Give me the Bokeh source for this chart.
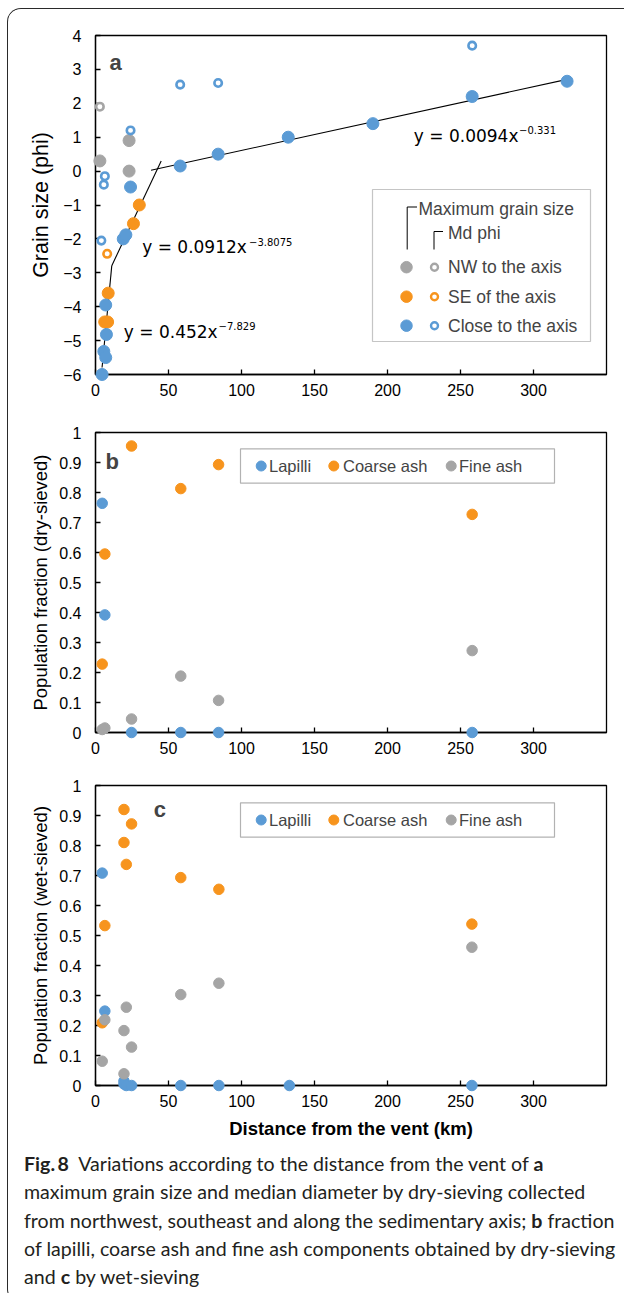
import math
from bokeh.plotting import figure
from bokeh.layouts import column
from bokeh.models import (Range1d, FixedTicker, Label, BoxAnnotation, Div,
                          CustomJSTickFormatter)
from bokeh.embed import file_html
from bokeh.resources import INLINE

# ---------------- data: panel a (grain size, phi) ----------------
nw_max_x = [3, 23, 23]
nw_max_y = [0.3, 0.9, 0.0]
nw_md_x = [3]
nw_md_y = [1.9]
se_max_x = [30, 26, 8.7, 6.3, 8.3]
se_max_y = [-1.0, -1.55, -3.6, -4.45, -4.45]
se_md_x = [8]
se_md_y = [-2.44]
cl_max_x = [4.5, 5.7, 7.0, 7.5, 7.0, 19.0, 20.8, 24, 58, 84, 132, 190, 258, 323]
cl_max_y = [-6.0, -5.32, -5.5, -4.82, -3.95, -2.0, -1.88, -0.47, 0.15, 0.5, 1.0, 1.4, 2.2, 2.65]
cl_md_x = [4, 5.7, 6.4, 24, 58, 84, 258]
cl_md_y = [-2.05, -0.4, -0.15, 1.2, 2.55, 2.6, 3.7]

fit_slope = [0.452, 0.0912, 0.0094]
fit_icept = [-7.829, -3.8075, -0.331]
fit_x_start = [4.5, 11.15, 38]
fit_x_end = [11.15, 45, 323]
eq_main = ["y = 0.452x", "y = 0.0912x", "y = 0.0094x"]
eq_sup = ["\u22127.829", "\u22123.8075", "\u22120.331"]

legend_a_titles = ["Maximum grain size", "Md phi"]
legend_a_rows = ["NW to the axis", "SE of the axis", "Close to the axis"]

# ---------------- data: panel b (dry-sieved) ----------------
dist_b = [4.6, 6.4, 24.7, 58.4, 84.3, 258]
lap_b = [0.764, 0.392, 0, 0, 0, 0]
coarse_b = [0.228, 0.595, 0.955, 0.813, 0.893, 0.727]
fine_b = [0.01, 0.015, 0.045, 0.188, 0.107, 0.273]

# ---------------- data: panel c (wet-sieved) ----------------
nan = float("nan")
dist_c = [4.6, 6.4, 19.5, 19.5, 21.1, 24.7, 58.4, 84.5, 132.8, 257.8]
lap_c = [0.708, 0.248, 0.015, 0.005, 0, 0, 0, 0, 0, 0]
coarse_c = [0.209, 0.533, 0.92, 0.81, 0.737, 0.872, 0.693, 0.654, nan, 0.538]
fine_c = [0.081, 0.219, 0.039, 0.183, 0.261, 0.128, 0.303, 0.341, nan, 0.461]

legend_bc = ["Lapilli", "Coarse ash", "Fine ash"]

x_tick_vals = [0, 50, 100, 150, 200, 250, 300]
a_tick_vals = [-6, -5, -4, -3, -2, -1, 0, 1, 2, 3, 4]
frac_tick_vals = [0, 0.1, 0.2, 0.3, 0.4, 0.5, 0.6, 0.7, 0.8, 0.9, 1.0]

# ---------------- style ----------------
BLUE = "#5B9BD5"
ORANGE = "#F7941D"
GRAY = "#A5A5A5"
FONT = "Liberation Sans"

W = 616
FRAME_L = 87
FRAME_W = 511
MB_R = W - FRAME_L - FRAME_W
X_MAX = 350


def fx(px):
    return (px - 95) * X_MAX / FRAME_W


def ya(py):
    return 4 - (py - 35) * 10 / 339


def yb(py):
    return (732 - py) / 300


def yc(py):
    return (1085 - py) / 300


def make_fig(height, top, frame_h, y0, y1):
    p = figure(width=W, height=height, x_range=Range1d(0, X_MAX),
               y_range=Range1d(y0, y1), output_backend="svg",
               toolbar_location=None, min_border_left=FRAME_L,
               min_border_right=MB_R, min_border_top=top,
               min_border_bottom=height - top - frame_h)
    p.grid.visible = False
    p.outline_line_color = "black"
    p.outline_line_width = 1.3
    p.background_fill_color = "white"
    p.border_fill_color = "white"
    for ax in p.axis:
        ax.major_tick_in = 5
        ax.major_tick_out = 0
        ax.minor_tick_line_color = None
        ax.axis_line_color = "black"
        ax.axis_line_width = 1.3
        ax.major_tick_line_color = "black"
        ax.major_tick_line_width = 1.3
        ax.major_label_text_font = FONT
        ax.major_label_text_font_size = "16px"
        ax.major_label_text_color = "black"
        ax.axis_label_text_font = FONT
        ax.axis_label_text_font_style = "normal"
        ax.axis_label_text_color = "black"
    p.xaxis.ticker = FixedTicker(ticks=x_tick_vals)
    p.xaxis.major_label_standoff = 9
    p.yaxis.major_label_standoff = 14
    return p


# ================= panel a =================
pa = make_fig(403, 26, 339, -6, 4)
pa.yaxis.ticker = FixedTicker(ticks=a_tick_vals)
pa.yaxis.axis_label = "Grain size (phi)"
pa.yaxis.axis_label_text_font_size = "21.5px"
pa.yaxis.axis_label_standoff = 7

for a, b, x0, x1 in zip(fit_slope, fit_icept, fit_x_start, fit_x_end):
    pa.line([x0, x1], [a * x0 + b, a * x1 + b], line_color="black", line_width=1.1)

FILLED = 12
OPEN = 7.5
OPEN_LW = 2.6
pa.scatter(nw_max_x, nw_max_y, size=FILLED, color=GRAY, level="overlay")
pa.scatter(nw_md_x, nw_md_y, size=OPEN, fill_color="white", line_color=GRAY,
           line_width=OPEN_LW, level="overlay")
pa.scatter(se_max_x, se_max_y, size=FILLED, color=ORANGE, level="overlay")
pa.scatter(se_md_x, se_md_y, size=OPEN, fill_color="white", line_color=ORANGE,
           line_width=OPEN_LW, level="overlay")
pa.scatter(cl_max_x, cl_max_y, size=FILLED, color=BLUE, level="overlay")
pa.scatter(cl_md_x, cl_md_y, size=OPEN, fill_color="white", line_color=BLUE,
           line_width=OPEN_LW, level="overlay")

# equations
eq_main_pos = [(123.3, 331.5), (141.7, 246.5), (413.3, 135.0)]
eq_sup_pos = [(218.0, 325.5), (248.5, 241.0), (518.5, 129.0)]
for t, (px, py) in zip(eq_main, eq_main_pos):
    pa.add_layout(Label(x=fx(px), y=ya(py), text=t, text_font="DejaVu Sans",
                        text_font_size="17px", text_baseline="middle",
                        text_align="left", text_color="black"))
for t, (px, py) in zip(eq_sup, eq_sup_pos):
    pa.add_layout(Label(x=fx(px), y=ya(py), text=t, text_font="DejaVu Sans",
                        text_font_size="10px", text_baseline="middle",
                        text_align="left", text_color="black"))

pa.add_layout(Label(x=fx(115), y=ya(62), text="a", text_font=FONT,
                    text_font_style="bold", text_font_size="22px",
                    text_align="center", text_baseline="middle"))

# legend a
pa.add_layout(BoxAnnotation(left=fx(372), right=fx(590), top=ya(189), bottom=ya(341),
                            fill_color="white", fill_alpha=1.0,
                            line_color="#404040", line_width=1.2))
pa.line([fx(406.7), fx(406.7), fx(416.5)], [ya(249), ya(206.5), ya(206.5)],
        line_color="black", line_width=1, level="overlay")
pa.line([fx(433.5), fx(433.5), fx(442.5)], [ya(249), ya(231), ya(231)],
        line_color="black", line_width=1, level="overlay")
pa.add_layout(Label(x=fx(418), y=ya(208.5), text=legend_a_titles[0], text_font=FONT,
                    text_font_size="17.5px", text_baseline="middle"))
pa.add_layout(Label(x=fx(447.5), y=ya(232.5), text=legend_a_titles[1], text_font=FONT,
                    text_font_size="17.5px", text_baseline="middle"))
row_py = [266.7, 296.2, 325.2]
row_cols = [GRAY, ORANGE, BLUE]
pa.scatter([fx(406)] * 3, [ya(v) for v in row_py], size=11.5, color=row_cols,
           level="overlay")
pa.scatter([fx(434)] * 3, [ya(v) for v in row_py], size=7, fill_color="white",
           line_color=row_cols, line_width=2.4, level="overlay")
for t, py in zip(legend_a_rows, row_py):
    pa.add_layout(Label(x=fx(447.5), y=ya(py), text=t, text_font=FONT,
                        text_font_size="17.5px", text_baseline="middle"))

# ================= panels b, c =================
frac_fmt = CustomJSTickFormatter(code="return String(Math.round(tick*10)/10);")


def frac_panel(height, ylabel, dist, lap, coarse, fine, letter,
               letter_pos, yfun, leg_top, leg_bot):
    p = make_fig(height, 20, 300, 0, 1)
    p.yaxis.ticker = FixedTicker(ticks=frac_tick_vals)
    p.yaxis.formatter = frac_fmt
    p.yaxis.axis_label = ylabel
    p.yaxis.axis_label_text_font_size = "18.5px"
    p.yaxis.axis_label_standoff = 5
    p.scatter(dist, lap, size=10.5, color=BLUE, level="overlay")
    p.scatter(dist, coarse, size=10.5, color=ORANGE, level="overlay")
    p.scatter(dist, fine, size=10.5, color=GRAY, level="overlay")
    p.add_layout(Label(x=fx(letter_pos[0]), y=yfun(letter_pos[1]), text=letter,
                       text_font=FONT, text_font_style="bold", text_font_size="22px",
                       text_align="center", text_baseline="middle"))
    p.add_layout(BoxAnnotation(left=fx(240), right=fx(554), top=yfun(leg_top),
                               bottom=yfun(leg_bot), fill_color="white", fill_alpha=1.0,
                               line_color="black", line_width=1.2))
    mid = (leg_top + leg_bot) / 2
    mk_px = [260.7, 333.3, 450.7]
    tx_px = [268.5, 342.5, 458.5]
    p.scatter([fx(v) for v in mk_px], [yfun(mid)] * 3, size=10,
              color=[BLUE, ORANGE, GRAY], level="overlay")
    for t, px in zip(legend_bc, tx_px):
        p.add_layout(Label(x=fx(px), y=yfun(mid), text=t, text_font=FONT,
                           text_font_size="16.5px", text_baseline="middle"))
    return p


pb = frac_panel(353, "Population fraction (dry-sieved)", dist_b, lap_b, coarse_b,
                fine_b, "b", (111.7, 461), yb, 448.3, 482.7)
pc = frac_panel(385, "Population fraction (wet-sieved)", dist_c, lap_c, coarse_c,
                fine_c, "c", (159.3, 808.5), yc, 802.3, 836.7)
pc.xaxis.axis_label = "Distance from the vent (km)"
pc.xaxis.axis_label_text_font_style = "bold"
pc.xaxis.axis_label_text_font_size = "18.5px"
pc.xaxis.axis_label_standoff = 8

# ================= caption =================
cap_lines = [
    "<b>Fig.&thinsp;8</b>&nbsp; Variations according to the distance from the vent of <b>a</b>",
    "maximum grain size and median diameter by dry-sieving collected",
    "from northwest, southeast and along the sedimentary axis; <b>b</b> fraction",
    "of lapilli, coarse ash and fine ash components obtained by dry-sieving",
    "and <b>c</b> by wet-sieving",
]
cap_html = ('<div style="font-family: Lato; font-size: 19.6px; line-height: 28.3px; '
            'color: #231f20; padding-left: 11px; margin-top: -5px; white-space: nowrap;">'
            + "<br>".join(cap_lines) + "</div>")
cap = Div(text=cap_html, width=W, height=142)

layout = column(pa, pb, pc, cap, spacing=0,
                styles={"margin-left": "7px", "margin-top": "8px",
                        "border-left": "1px solid #2a2a2a",
                        "border-top": "1px solid #2a2a2a",
                        "border-bottom": "1px solid #2a2a2a",
                        "border-top-left-radius": "14px",
                        "border-bottom-left-radius": "14px",
                        "overflow": "hidden"})

with open("out.html", "w") as f:
    f.write(file_html(layout, INLINE))
